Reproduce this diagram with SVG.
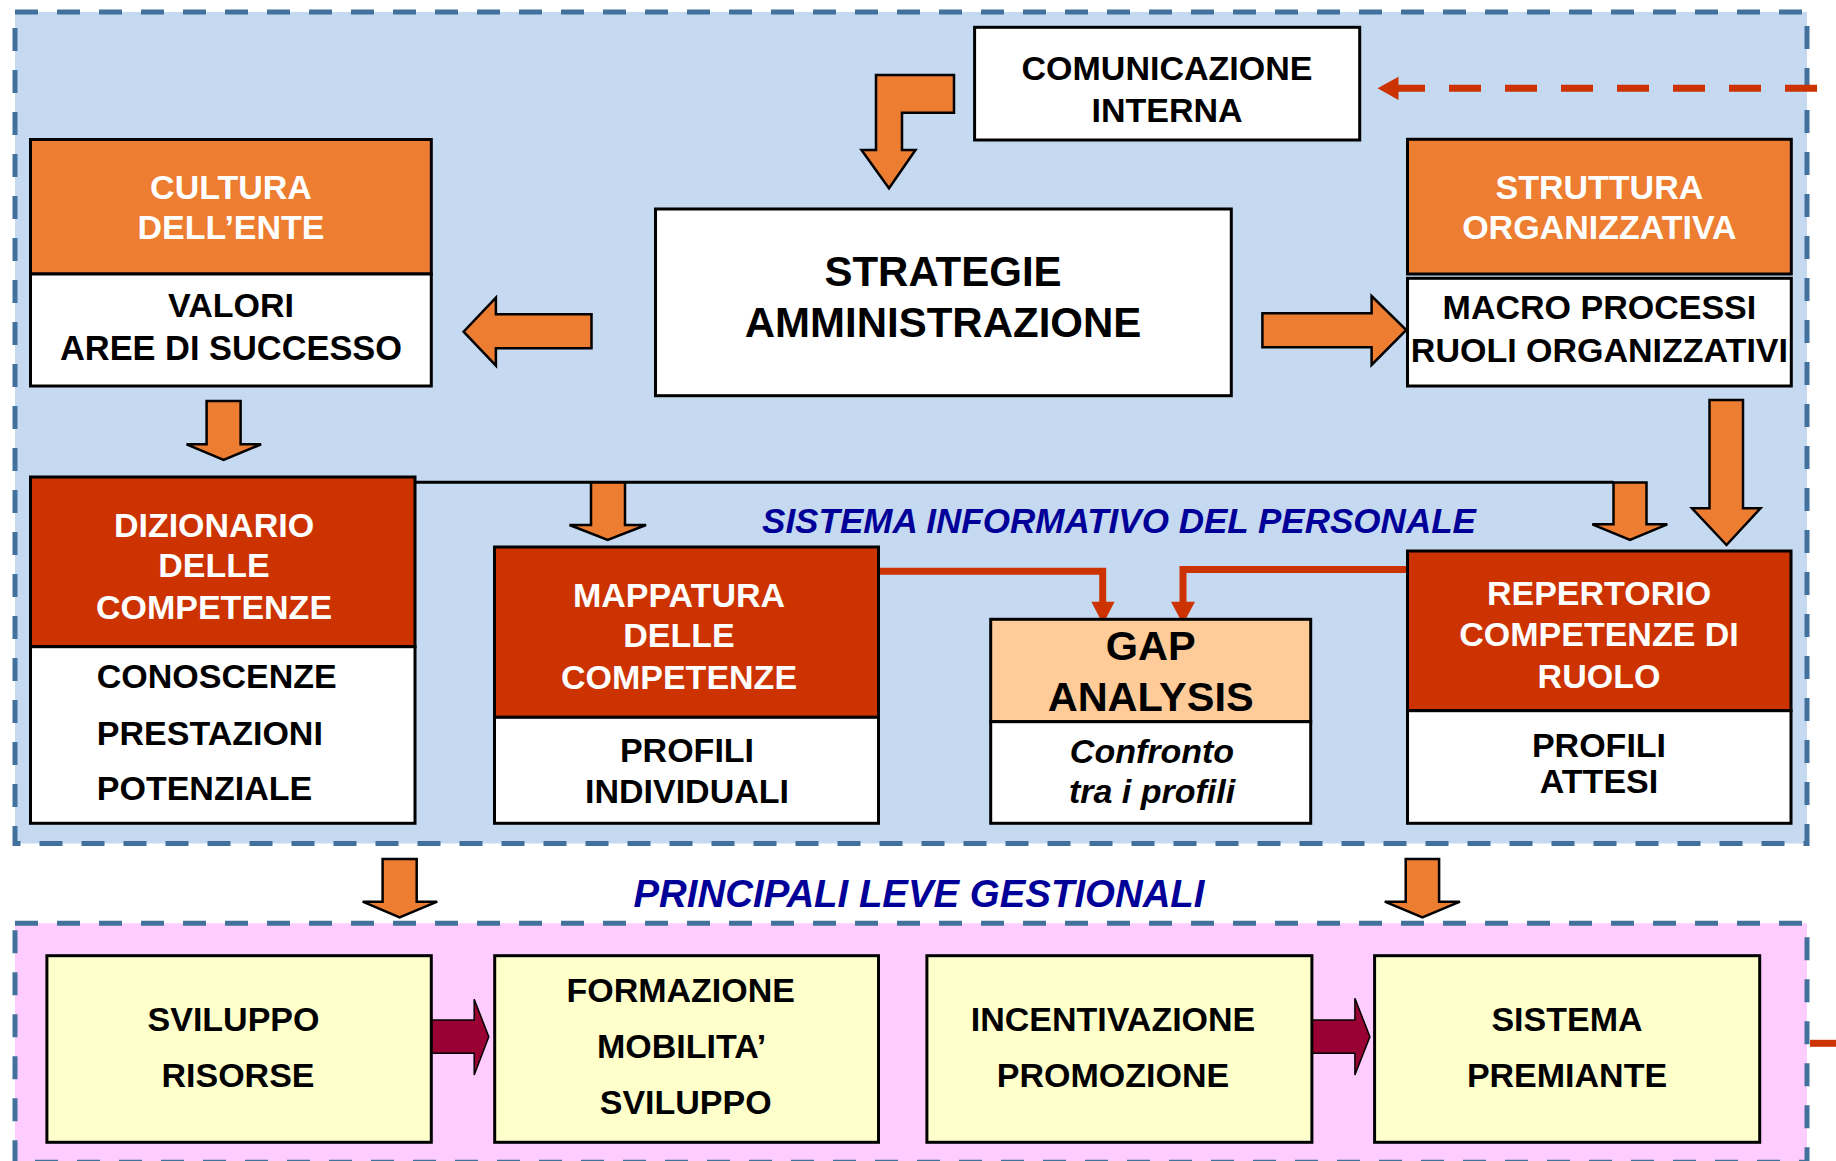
<svg xmlns="http://www.w3.org/2000/svg" width="1836" height="1161" viewBox="0 0 1836 1161">
<style>
.t{font-family:"Liberation Sans",Arial,sans-serif;font-weight:bold;font-size:34px;fill:#000;text-anchor:middle}
.w{fill:#fff}
.l{text-anchor:start}
.it{font-style:italic}
.h{font-family:"Liberation Sans",Arial,sans-serif;font-weight:bold;font-style:italic;fill:#000099}
.box{stroke:#000;stroke-width:3}
.or{fill:#ED7D31}
.rd{fill:#CC3300}
.wh{fill:#fff}
.pe{fill:#FFCC99}
.ye{fill:#FFFFCC}
.arr{fill:#ED7D31;stroke:#000;stroke-width:2.5;stroke-linejoin:miter}
.mar{fill:#990033;stroke:#000;stroke-width:1.5}
.frame{stroke:#41719C;stroke-width:5;stroke-dasharray:23 19}
.rl{fill:none;stroke:#CC3300;stroke-width:7}
</style>
<rect width="1836" height="1161" fill="#fff"/>
<g id="frame-sip">
<rect class="frame" x="15" y="12" width="1792" height="831.5" fill="#C5D9F1"/>
</g>
<g id="frame-leve">
<rect class="frame" x="15" y="923.3" width="1792" height="239" fill="#FFCCFF"/>
</g>

<g id="connectors">
<path class="rl" d="M1817 88.3H1396" stroke-dasharray="32 24"/>
<polygon points="1377.6,88.3 1398.5,76.7 1398.5,100" fill="#CC3300"/>
<path d="M1810 1043.3H1840" stroke="#CC3300" stroke-width="7"/>
<polygon class="arr" points="954,75 876,75 876,150 861.5,150 889,188.3 915.5,150 902,150 902,112.7 954,112.7"/>
<polygon class="arr" points="591.5,314.3 495.9,314.3 495.9,297.7 463.6,331.7 495.9,365.7 495.9,348.3 591.5,348.3"/>
<polygon class="arr" points="1262.4,313.3 1371.6,313.3 1371.6,296 1406.3,330 1371.6,365 1371.6,347.3 1262.4,347.3"/>
<polygon class="arr" points="206.6,401 240.6,401 240.6,444.3 261.1,444.3 223.6,460 186.6,444.3 206.6,444.3"/>
<path d="M415 482.3H1613.5" stroke="#000" stroke-width="3" fill="none"/>
<polygon class="arr" points="591,482.5 625,482.5 625,525 646,525 607.7,540 569.5,525 591,525"/>
<polygon class="arr" points="1613.5,482.5 1646.5,482.5 1646.5,524.3 1667.3,524.3 1630,540 1592.3,524.3 1613.5,524.3"/>
<polygon class="arr" points="1709.5,400 1743,400 1743,508.3 1760.5,508.3 1726.5,545 1692,508.3 1709.5,508.3"/>
<path class="rl" d="M878.5 571.3H1102.7V604"/>
<polygon points="1091.4,601.7 1114.6,601.7 1103,624.3" fill="#CC3300"/>
<path class="rl" d="M1407.5 569.5H1183V604"/>
<polygon points="1171,601.7 1195,601.7 1183,624.3" fill="#CC3300"/>
<polygon class="arr" points="382.6,859 416.7,859 416.7,901.7 437.2,901.7 399.6,917.3 362.7,901.7 382.6,901.7"/>
<polygon class="arr" points="1405.7,859 1439.1,859 1439.1,901.7 1460,901.7 1422.4,917.3 1384.8,901.7 1405.7,901.7"/>
<polygon class="mar" points="431.3,1020 474.2,1020 474.2,999.3 488.8,1036.7 474.2,1075 474.2,1053.3 431.3,1053.3"/>
<polygon class="mar" points="1311.9,1020 1354.9,1020 1354.9,998.3 1369.9,1036.7 1354.9,1075 1354.9,1053.3 1311.9,1053.3"/>
</g>

<g id="comunicazione">
<rect class="box wh" x="974.6" y="27.3" width="385.1" height="112.7"/>
<text class="t" x="1167" y="80">COMUNICAZIONE</text>
<text class="t" x="1167" y="121.7">INTERNA</text>
</g>
<g id="cultura">
<rect class="box or" x="30.5" y="139.5" width="400.8" height="134.5"/>
<rect class="box wh" x="30.5" y="274" width="400.8" height="112"/>
<text class="t w" x="231" y="199.3">CULTURA</text>
<text class="t w" x="231" y="239.3">DELL’ENTE</text>
<text class="t" x="231" y="317.3">VALORI</text>
<text class="t" x="231" y="360" style="font-size:34.4px">AREE DI SUCCESSO</text>
</g>
<g id="strategie">
<rect class="box wh" x="655.5" y="209" width="575.8" height="186.7"/>
<text class="t" x="943" y="285.7" style="font-size:42px">STRATEGIE</text>
<text class="t" x="943" y="336.7" style="font-size:42px">AMMINISTRAZIONE</text>
</g>
<g id="struttura">
<rect class="box or" x="1407.5" y="139.3" width="383.8" height="134.7"/>
<rect class="box wh" x="1407.5" y="278.3" width="383.8" height="107.7"/>
<text class="t w" x="1599.4" y="199.3">STRUTTURA</text>
<text class="t w" x="1599.4" y="239.3">ORGANIZZATIVA</text>
<text class="t" x="1599.4" y="319">MACRO PROCESSI</text>
<text class="t" x="1599.4" y="362.3">RUOLI ORGANIZZATIVI</text>
</g>
<g id="sip-label">
<text class="h" x="762" y="533.3" style="font-size:35px" textLength="714" lengthAdjust="spacingAndGlyphs">SISTEMA INFORMATIVO DEL PERSONALE</text>
</g>
<g id="dizionario">
<rect class="box rd" x="30.5" y="477" width="384.5" height="169.7"/>
<rect class="box wh" x="30.5" y="646.7" width="384.5" height="176.6"/>
<text class="t w" x="214" y="536.7">DIZIONARIO</text>
<text class="t w" x="214" y="577.3">DELLE</text>
<text class="t w" x="214" y="619.3">COMPETENZE</text>
<text class="t l" x="96.8" y="688.3">CONOSCENZE</text>
<text class="t l" x="96.8" y="745">PRESTAZIONI</text>
<text class="t l" x="96.8" y="800">POTENZIALE</text>
</g>
<g id="mappatura">
<rect class="box rd" x="494.5" y="547" width="384" height="170.3"/>
<rect class="box wh" x="494.5" y="717.3" width="384" height="106"/>
<text class="t w" x="679" y="606.7">MAPPATURA</text>
<text class="t w" x="679" y="647.3">DELLE</text>
<text class="t w" x="679" y="689.3">COMPETENZE</text>
<text class="t" x="687" y="761.7">PROFILI</text>
<text class="t" x="687" y="803.3">INDIVIDUALI</text>
</g>
<g id="gap">
<rect class="box pe" x="990.7" y="619.3" width="320" height="102.4"/>
<rect class="box wh" x="990.7" y="721.7" width="320" height="101.6"/>
<text class="t" x="1150.7" y="660" style="font-size:41.5px">GAP</text>
<text class="t" x="1150.7" y="710.7" style="font-size:41.5px">ANALYSIS</text>
<text class="t it" x="1152" y="763.3">Confronto</text>
<text class="t it" x="1152" y="803.3">tra i profili</text>
</g>
<g id="repertorio">
<rect class="box rd" x="1407.5" y="551" width="383.5" height="159.7"/>
<rect class="box wh" x="1407.5" y="710.7" width="383.5" height="112.6"/>
<text class="t w" x="1599" y="605">REPERTORIO</text>
<text class="t w" x="1599" y="646">COMPETENZE DI</text>
<text class="t w" x="1599" y="688.3">RUOLO</text>
<text class="t" x="1599" y="756.7">PROFILI</text>
<text class="t" x="1599" y="793.3">ATTESI</text>
</g>
<g id="leve-label">
<text class="h" x="633.5" y="906.7" style="font-size:38px" textLength="571" lengthAdjust="spacingAndGlyphs">PRINCIPALI LEVE GESTIONALI</text>
</g>
<g id="sviluppo">
<rect class="box ye" x="46.9" y="955.7" width="384.4" height="186.6"/>
<text class="t" x="233.5" y="1030.7">SVILUPPO</text>
<text class="t" x="238" y="1086.7">RISORSE</text>
</g>
<g id="formazione">
<rect class="box ye" x="494.7" y="955.7" width="383.8" height="186.6"/>
<text class="t" x="680.7" y="1002.3">FORMAZIONE</text>
<text class="t" x="681.6" y="1058.3">MOBILITA’</text>
<text class="t" x="685.7" y="1114">SVILUPPO</text>
</g>
<g id="incentivazione">
<rect class="box ye" x="926.9" y="955.7" width="385" height="186.6"/>
<text class="t" x="1113" y="1030.7">INCENTIVAZIONE</text>
<text class="t" x="1113" y="1086.7">PROMOZIONE</text>
</g>
<g id="sistema-premiante">
<rect class="box ye" x="1374.6" y="955.7" width="385.1" height="186.6"/>
<text class="t" x="1567" y="1030.7">SISTEMA</text>
<text class="t" x="1567" y="1086.7">PREMIANTE</text>
</g>
</svg>
